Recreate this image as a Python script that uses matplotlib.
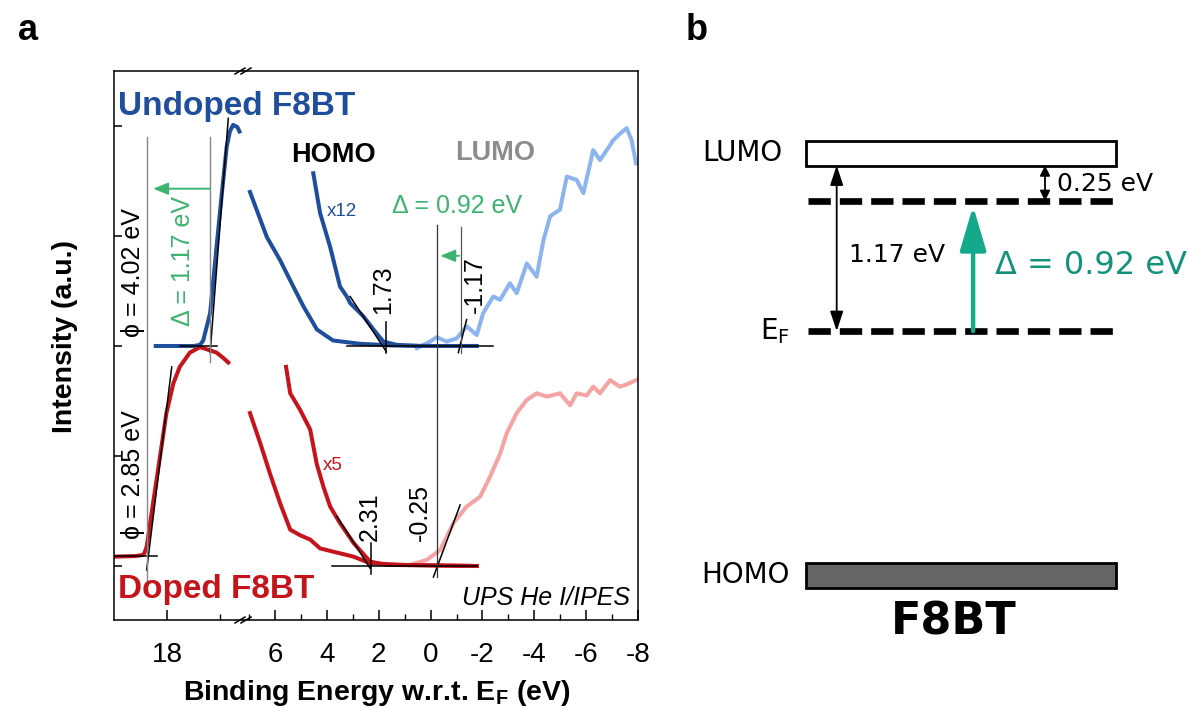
import matplotlib.pyplot as plt
from matplotlib.lines import Line2D
from matplotlib.patches import Rectangle
from matplotlib.ticker import FixedLocator, MultipleLocator

plt.rcParams["font.family"] = ["Liberation Sans", "DejaVu Sans"]
plt.rcParams["mathtext.fontset"] = "custom"
plt.rcParams["mathtext.rm"] = "Liberation Sans"
plt.rcParams["mathtext.bf"] = "Liberation Sans:bold"
plt.rcParams["mathtext.sf"] = "DejaVu Sans"

# ---- panel a data: binding energy (eV) vs intensity (a.u., offset) ----
# secondary electron cut-offs (left segment)
undoped_cut_e = [18.21, 17.50, 17.38, 17.32, 17.19, 17.07, 16.97, 16.88, 16.82, 16.76, 16.68, 16.64]
undoped_cut_i = [2.0, 2.0, 2.01, 2.05, 2.30, 2.90, 3.39, 3.81, 3.95, 4.01, 3.99, 3.95]
doped_cut_e = [18.98, 18.60, 18.45, 18.42, 18.38, 18.26, 18.13, 18.01, 17.88, 17.76,
               17.57, 17.38, 17.19, 17.07, 16.94, 16.85]
doped_cut_i = [0.085, 0.09, 0.10, 0.12, 0.175, 0.573, 0.994, 1.39, 1.66, 1.81,
               1.94, 1.99, 1.96, 1.94, 1.89, 1.85]

# valence region (UPS)
undoped_vb_e = [6.96, 6.31, 5.80, 5.29, 4.90, 4.38, 3.76, 2.72, 1.50, 0.0, -1.71]
undoped_vb_i = [3.40, 2.99, 2.78, 2.54, 2.36, 2.15, 2.05, 2.02, 2.005, 2.0, 2.0]
undoped_x12_e = [4.52, 4.26, 3.87, 3.49, 3.23, 3.10, 2.59, 2.20, 1.82, 1.30, 0.5, -1.78]
undoped_x12_i = [3.57, 3.21, 2.90, 2.54, 2.45, 2.39, 2.27, 2.15, 2.04, 2.01, 2.0, 2.0]
doped_vb_e = [6.96, 6.57, 6.19, 5.80, 5.41, 5.03, 4.64, 4.26, 3.75, 2.97, 2.33, 1.05, -1.78]
doped_vb_i = [1.39, 1.12, 0.84, 0.57, 0.33, 0.28, 0.24, 0.16, 0.13, 0.085, 0.025, 0.01, 0.0]
doped_x5_e = [5.57, 5.41, 5.03, 4.64, 4.39, 4.13, 3.87, 3.49, 2.97, 2.33, 1.69, -1.78]
doped_x5_i = [1.81, 1.57, 1.42, 1.24, 0.93, 0.72, 0.54, 0.39, 0.21, 0.04, 0.01, 0.0]

# conduction region (IPES)
undoped_ipes_e = [0.53, 0.02, -0.24, -0.62, -1.01, -1.39, -1.78, -2.03, -2.42, -2.68, -3.06,
                  -3.32, -3.71, -4.09, -4.35, -4.61, -4.99, -5.25, -5.63, -5.89, -6.27,
                  -6.53, -6.79, -7.04, -7.30, -7.56, -7.75, -7.92]
undoped_ipes_i = [1.98, 2.04, 2.08, 2.04, 2.07, 2.18, 2.10, 2.30, 2.45, 2.42, 2.57,
                  2.48, 2.75, 2.63, 2.96, 3.18, 3.24, 3.54, 3.51, 3.39, 3.78,
                  3.69, 3.78, 3.87, 3.93, 3.98, 3.87, 3.66]
doped_ipes_e = [0.79, 0.15, -0.37, -0.88, -1.39, -1.91, -2.29, -2.68, -2.94, -3.32, -3.71,
                -4.09, -4.48, -4.99, -5.38, -5.63, -6.02, -6.27, -6.53, -6.92, -7.30,
                -7.56, -7.92]
doped_ipes_i = [0.01, 0.055, 0.145, 0.39, 0.54, 0.63, 0.81, 1.02, 1.21, 1.39, 1.51,
                1.57, 1.54, 1.57, 1.46, 1.57, 1.55, 1.63, 1.57, 1.69, 1.63,
                1.65, 1.69]

# onset fits (pairs of end points)
fits_left = [([17.76, 17.06], [2.0, 2.0]), ([16.85, 17.19], [4.07, 1.94]),
             ([18.98, 18.19], [0.09, 0.09]), ([18.38, 17.91], [-0.036, 1.81])]
fits_right = [([3.23, -2.42], [2.0, 2.0]), ([3.10, 1.71], [2.45, 1.95]),
              ([-1.07, -1.39], [1.94, 2.24]), ([3.81, -1.78], [0.0, 0.0]),
              ([3.61, 2.33], [0.45, -0.02]), ([-0.11, -1.14], [-0.10, 0.555]),
              ([1.73, 1.73], [1.94, 2.22]), ([2.31, 2.31], [-0.07, 0.21])]
cutoff_undoped = 21.22 - 4.02
cutoff_doped = 21.22 - 2.85

# ---- panel b data: energy levels relative to E_F (eV) ----
lumo_level = 1.17
shifted_level = 0.92
fermi_level = 0.0
homo_level = -1.64   # schematic
level_thickness = 0.175

blue, light_blue = "#1f4e9c", "#8cb4ef"
red, pink = "#c5141b", "#f5a3a3"
green = "#3cb371"
teal, teal_text = "#14a98a", "#13917a"

W, H = 1190, 708
fig = plt.figure(figsize=(W / 100, H / 100), dpi=100)


def rect(x0, y0, x1, y1):
    return [x0 / W, 1 - y1 / H, (x1 - x0) / W, (y1 - y0) / H]


ax_l = fig.add_axes(rect(113.6, 71, 243, 620))
ax_r = fig.add_axes(rect(243, 71, 638.1, 620))
ax_l.set_xlim(19.0, 16.574)
ax_r.set_xlim(7.23, -8.0)
for ax in (ax_l, ax_r):
    ax.set_ylim(-0.491, 4.5)
    for s in ax.spines.values():
        s.set_linewidth(1.1)
    ax.tick_params(axis="x", which="major", direction="in", length=7, width=1.1,
                   labelsize=20, pad=16)
    ax.tick_params(axis="x", which="minor", direction="in", length=4, width=1.0)
ax_l.spines["right"].set_visible(False)
ax_r.spines["left"].set_visible(False)
ax_l.xaxis.set_major_locator(FixedLocator([18]))
ax_l.xaxis.set_minor_locator(FixedLocator([17]))
ax_l.yaxis.set_major_locator(FixedLocator([0, 1, 2, 3, 4]))
ax_l.tick_params(axis="y", direction="in", length=6, width=1.1, labelleft=False)
ax_r.xaxis.set_major_locator(MultipleLocator(2))
ax_r.xaxis.set_minor_locator(MultipleLocator(1))
ax_r.tick_params(axis="y", left=False, labelleft=False)
ax_r.xaxis.set_major_formatter(plt.FuncFormatter(lambda v, p: f"{v:g}"))

# curves
ax_l.plot(doped_cut_e, doped_cut_i, color=red, lw=2.9)
ax_l.plot(undoped_cut_e, undoped_cut_i, color=blue, lw=2.9)
ax_r.plot(undoped_ipes_e, undoped_ipes_i, color=light_blue, lw=2.9)
ax_r.plot(doped_ipes_e, doped_ipes_i, color=pink, lw=2.9)
ax_r.plot(undoped_vb_e, undoped_vb_i, color=blue, lw=2.9)
ax_r.plot(undoped_x12_e, undoped_x12_i, color=blue, lw=2.9)
ax_r.plot(doped_vb_e, doped_vb_i, color=red, lw=2.9)
ax_r.plot(doped_x5_e, doped_x5_i, color=red, lw=2.9)

# onset lines
for xs, ys in fits_left:
    ax_l.plot(xs, ys, color="black", lw=1.1)
for xs, ys in fits_right:
    ax_r.plot(xs, ys, color="black", lw=1.1)
ax_l.plot([cutoff_doped] * 2, [-0.155, 3.90], color="#888888", lw=1.0)
ax_l.plot([cutoff_undoped] * 2, [1.85, 3.90], color="#888888", lw=1.0)
ax_r.plot([-0.25, -0.25], [-0.10, 3.10], color="#333333", lw=0.9)
ax_r.plot([-1.17, -1.17], [1.94, 3.08], color="#555555", lw=0.9)

ax_l.annotate("", xy=(18.26, 3.43), xytext=(cutoff_undoped, 3.43),
              arrowprops=dict(arrowstyle="-|>,head_length=0.45,head_width=0.18",
                              color=green, lw=1.4, mutation_scale=20,
                              shrinkA=0, shrinkB=0))
ax_r.annotate("", xy=(-0.37, 2.82), xytext=(-1.10, 2.82),
              arrowprops=dict(arrowstyle="-|>,head_length=0.45,head_width=0.18",
                              color=green, lw=1.4, mutation_scale=20,
                              shrinkA=0, shrinkB=0))

# text annotations
ax_l.text(17.70, 2.77, "Δ = 1.17 eV", color=green, fontsize=18, rotation=90,
          ha="center", va="center")
ax_l.text(18.63, 2.67, "ϕ = 4.02 eV", fontsize=18, rotation=90, ha="center", va="center")
ax_l.text(18.63, 0.83, "ϕ = 2.85 eV", fontsize=18, rotation=90, ha="center", va="center")
ax_r.text(3.76, 3.74, "HOMO", fontsize=19.5, weight="bold", ha="center", va="center")
ax_r.text(-2.49, 3.75, "LUMO", fontsize=19.5, weight="bold", color="#8c8c8c",
          ha="center", va="center")
ax_r.text(3.41, 3.22, "x12", fontsize=13.5, color=blue, ha="center", va="center")
ax_r.text(3.76, 0.91, "x5", fontsize=13.5, color=red, ha="center", va="center")
ax_r.text(-1.04, 3.27, "Δ = 0.92 eV", color=green, fontsize=18, ha="center", va="center")
ax_r.text(1.83, 2.51, "1.73", fontsize=18, rotation=90, ha="center", va="center")
ax_r.text(-1.71, 2.56, "-1.17", fontsize=18, rotation=90, ha="center", va="center")
ax_r.text(2.33, 0.45, "2.31", fontsize=18, rotation=90, ha="center", va="center")
ax_r.text(0.40, 0.49, "-0.25", fontsize=18, rotation=90, ha="center", va="center")
ax_r.text(-7.69, -0.355, "UPS He I/IPES", fontsize=18, style="italic",
          ha="right", va="baseline")

fig.text(118 / W, 1 - 115 / H, "Undoped F8BT", fontsize=24, weight="bold",
         color=blue, va="baseline")
fig.text(118 / W, 1 - 598 / H, "Doped F8BT", fontsize=24, weight="bold",
         color=red, va="baseline")
fig.text(377 / W, 1 - 700 / H, r"Binding Energy w.r.t. E$_\mathbf{F}$ (eV)",
         fontsize=20.5, weight="bold", ha="center", va="baseline")
fig.text(65 / W, 1 - 336 / H, "Intensity (a.u.)", fontsize=20.5, weight="bold",
         rotation=90, ha="center", va="center")
fig.text(28 / W, 1 - 30 / H, "a", fontsize=26, weight="bold", ha="center", va="center")
fig.text(697 / W, 1 - 30 / H, "b", fontsize=26, weight="bold", ha="center", va="center")

# axis break marks
for py in (71, 620):
    for dx in (-3, 3):
        fig.add_artist(Line2D([(243 + dx - 5) / W, (243 + dx + 5) / W],
                              [1 - (py + 3) / H, 1 - (py - 3) / H],
                              color="black", lw=1.1))

# ---- panel b: energy level diagram ----
ax_b = fig.add_axes(rect(806, 100, 1116, 660))
ax_b.set_xlim(0, 1)
ax_b.set_ylim(-2.325, 1.633)
ax_b.axis("off")
bfont = "DejaVu Sans"

ax_b.add_patch(Rectangle((0, lumo_level), 1, level_thickness, facecolor="white",
                         edgecolor="black", lw=2, clip_on=False))
ax_b.add_patch(Rectangle((0, homo_level - level_thickness), 1, level_thickness,
                         facecolor="#666666", edgecolor="black", lw=2, clip_on=False))
for lvl in (shifted_level, fermi_level):
    ax_b.plot([0.005, 0.99], [lvl, lvl], color="black", lw=4.8, dashes=(3.35, 1.35),
              solid_capstyle="butt", dash_capstyle="butt")

ax_b.annotate("", xy=(0.099, lumo_level), xytext=(0.099, fermi_level),
              arrowprops=dict(arrowstyle="<|-|>,head_length=0.6,head_width=0.2",
                              color="black", lw=1.3, mutation_scale=20,
                              shrinkA=0, shrinkB=0))
ax_b.annotate("", xy=(0.771, lumo_level), xytext=(0.771, shifted_level),
              arrowprops=dict(arrowstyle="<|-|>,head_length=0.5,head_width=0.25",
                              color="black", lw=1.3, mutation_scale=12,
                              shrinkA=0, shrinkB=0))
ax_b.annotate("", xy=(0.539, shifted_level - 0.037), xytext=(0.539, fermi_level),
              arrowprops=dict(arrowstyle="-|>,head_length=1.35,head_width=0.4",
                              color=teal, lw=3.2, mutation_scale=20,
                              shrinkA=0, shrinkB=0))

ax_b.text(-0.077, lumo_level + level_thickness / 2, "LUMO", family=bfont, fontsize=20,
          ha="right", va="center")
ax_b.text(-0.052, fermi_level, r"E$_\mathsf{F}$", family=bfont, fontsize=20,
          ha="right", va="center")
ax_b.text(-0.052, homo_level - level_thickness / 2, "HOMO", family=bfont, fontsize=20,
          ha="right", va="center")
ax_b.text(0.294, 0.537, f"{lumo_level - fermi_level:.2f} eV", family=bfont,
          fontsize=18, ha="center", va="center")
ax_b.text(0.809, 1.04, f"{lumo_level - shifted_level:.2f} eV", family=bfont,
          fontsize=18, ha="left", va="center")
ax_b.text(0.61, 0.466, f"Δ = {shifted_level:.2f} eV", family=bfont, fontsize=23,
          color=teal_text, ha="left", va="center")
ax_b.text(0.477, -2.057, "F8BT", family=bfont, fontsize=32, weight="bold",
          ha="center", va="center")

fig.savefig("out.png", dpi=100)
